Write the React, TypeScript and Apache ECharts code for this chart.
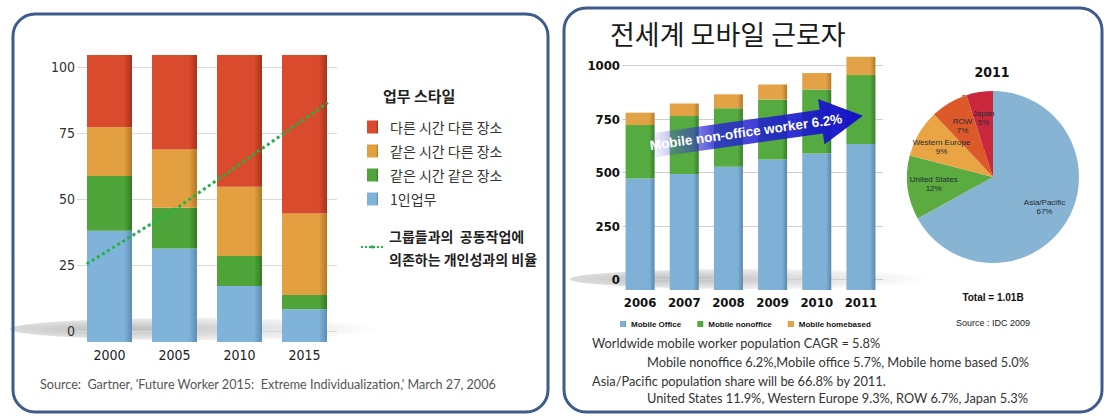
import React, { useEffect, useRef } from 'react';
import * as echarts from 'echarts';

// ---------- Left chart data (share of work style, %) ----------
const leftYears = ['2000', '2005', '2010', '2015'];
const soloWork = [38.8, 32.6, 19.5, 11.4]; // 1인업무
const sameTimeSamePlace = [19.0, 14.2, 10.5, 5.0]; // 같은 시간 같은 장소
const sameTimeDiffPlace = [17.0, 20.3, 24.1, 28.4]; // 같은 시간 다른 장소
const diffTimeDiffPlace = [25.2, 32.9, 45.9, 55.2]; // 다른 시간 다른 장소
const groupRatioYears = [1998.25, 2005.4, 2016.8];
const groupRatioValues = [25.4, 47.3, 86.5];

// ---------- Right chart data (mobile workers, millions) ----------
const rightYears = ['2006', '2007', '2008', '2009', '2010', '2011'];
const mobileOffice = [487, 506, 538, 570, 596, 637];
const mobileNonoffice = [233, 253, 255, 262, 279, 301];
const mobileHomebased = [54, 55, 61, 65, 72, 80];

// ---------- Pie data (2011 share, %) ----------
const regions = ['Asia/Pacific', 'United States', 'Western Europe', 'ROW', 'Japan'];
const regionShares = [67, 12, 9, 7, 5];

const LINE_NAME = '그룹들과의  공동작업에\n의존하는 개인성과의 비율';
const KR = "'Noto Sans CJK KR', 'Noto Sans', sans-serif";
const NARROW = "'Liberation Sans Narrow', 'DejaVu Sans Condensed', 'Open Sans', sans-serif";
const LATO = "Lato, 'Open Sans', sans-serif";
const PIE_C = [993, 177];

function grad(c: string, dark: string) {
  return new echarts.graphic.LinearGradient(0, 0, 1, 0, [
    { offset: 0, color: c },
    { offset: 0.82, color: c },
    { offset: 1, color: dark },
  ]);
}

function txt(x: number, y: number, text: string, font: string, fill: string, align = 'left', z = 30) {
  return {
    type: 'text',
    x,
    y,
    z,
    style: {
      text,
      font,
      fill,
      align,
      textAlign: align,
      verticalAlign: 'middle',
      textVerticalAlign: 'middle',
    },
  };
}

function shadow(cx: number, cy: number, rx: number, ry: number) {
  return {
    type: 'ellipse',
    z: 0,
    shape: { cx, cy, rx, ry },
    style: {
      fill: new echarts.graphic.RadialGradient(0.3, 0.5, 0.7, [
        { offset: 0, color: 'rgba(0,0,0,0.26)' },
        { offset: 0.6, color: 'rgba(0,0,0,0.1)' },
        { offset: 1, color: 'rgba(0,0,0,0)' },
      ]),
    },
  };
}

export default function App() {
  const ref = useRef<HTMLDivElement>(null);
  useEffect(() => {
    if (!ref.current) return;
    const chart = echarts.init(ref.current, undefined, { renderer: 'svg' });
    const option: any = {
      animation: false,
      backgroundColor: '#ffffff',
      grid: [
        { left: 77, top: 67, width: 260, height: 264 },
        { left: 77, top: 55, width: 260, height: 287 },
        { left: 622, top: 65.5, width: 261, height: 214 },
        { left: 618, top: 38, width: 265, height: 252 },
      ],
      xAxis: [
        { gridIndex: 0, type: 'value', min: 1997.5, max: 2017.5, show: false },
        {
          gridIndex: 1,
          type: 'category',
          data: leftYears,
          axisLine: { show: false },
          axisTick: { show: false },
          axisLabel: { margin: 6, fontSize: 14, color: '#222', fontFamily: NARROW },
        },
        { gridIndex: 2, type: 'category', data: rightYears, show: false },
        {
          gridIndex: 3,
          type: 'category',
          data: rightYears,
          axisLine: { show: false },
          axisTick: { show: false },
          axisLabel: { interval: 0, margin: 6, fontSize: 13, fontWeight: 'bold', color: '#111', fontFamily: NARROW },
        },
      ],
      yAxis: [
        {
          gridIndex: 0,
          type: 'value',
          min: 0,
          max: 100,
          interval: 25,
          axisLine: { show: false },
          axisTick: { show: false },
          axisLabel: { margin: 2, fontSize: 14, color: '#333', fontFamily: NARROW },
          splitLine: { lineStyle: { color: '#d9d9d9' } },
        },
        { gridIndex: 1, type: 'value', min: 0, max: 100, show: false },
        {
          gridIndex: 2,
          type: 'value',
          min: 0,
          max: 1000,
          interval: 250,
          axisLine: { show: false },
          axisTick: { show: false },
          axisLabel: {
            margin: 2,
            fontSize: 13,
            fontWeight: 'bold',
            color: '#111',
            fontFamily: NARROW,
            formatter: (v: number) => String(v),
          },
          splitLine: { lineStyle: { color: '#cfcfcf' } },
        },
        { gridIndex: 3, type: 'value', min: 0, max: 1100, show: false },
      ],
      legend: [
        {
          data: ['다른 시간 다른 장소', '같은 시간 다른 장소', '같은 시간 같은 장소', '1인업무'],
          orient: 'vertical',
          left: 367,
          top: 120,
          padding: 0,
          itemWidth: 11,
          itemHeight: 13,
          itemGap: 10,
          icon: 'rect',
          selectedMode: false,
          textStyle: { fontSize: 14, color: '#333', fontFamily: KR, padding: [0, 0, 0, 7] },
        },
        {
          data: [LINE_NAME],
          left: 360,
          top: 224,
          padding: 0,
          itemWidth: 23,
          itemHeight: 4,
          selectedMode: false,
          textStyle: { fontSize: 14, fontWeight: 'bold', lineHeight: 23, color: '#222', fontFamily: KR },
        },
        {
          data: ['Mobile Office', 'Mobile nonoffice', 'Mobile homebased'],
          left: 620,
          top: 320,
          padding: 0,
          itemWidth: 6,
          itemHeight: 6,
          itemGap: 16,
          icon: 'rect',
          selectedMode: false,
          textStyle: { fontSize: 8, fontWeight: 'bold', color: '#111', fontFamily: "'Liberation Sans', sans-serif" },
        },
      ],
      series: [
        { name: '1인업무', type: 'bar', stack: 'L', xAxisIndex: 1, yAxisIndex: 1, barWidth: 45, data: soloWork, itemStyle: { color: grad('#80b3d9', '#5d8db3') } },
        { name: '같은 시간 같은 장소', type: 'bar', stack: 'L', xAxisIndex: 1, yAxisIndex: 1, barWidth: 45, data: sameTimeSamePlace, itemStyle: { color: grad('#4fa53a', '#357a25') } },
        { name: '같은 시간 다른 장소', type: 'bar', stack: 'L', xAxisIndex: 1, yAxisIndex: 1, barWidth: 45, data: sameTimeDiffPlace, itemStyle: { color: grad('#e3a040', '#b07828') } },
        { name: '다른 시간 다른 장소', type: 'bar', stack: 'L', xAxisIndex: 1, yAxisIndex: 1, barWidth: 45, data: diffTimeDiffPlace, itemStyle: { color: grad('#da4a2c', '#a8321c') } },
        {
          name: LINE_NAME,
          type: 'line',
          xAxisIndex: 0,
          yAxisIndex: 0,
          z: 5,
          symbol: 'none',
          data: groupRatioYears.map((y, i) => [y, groupRatioValues[i]]),
          lineStyle: { color: '#22b24c', width: 3, type: 'dotted' },
          itemStyle: { color: '#22b24c' },
        },
        { name: 'Mobile Office', type: 'bar', stack: 'R', xAxisIndex: 3, yAxisIndex: 3, barWidth: 29, data: mobileOffice, itemStyle: { color: grad('#7fb0d5', '#5a88ad') } },
        { name: 'Mobile nonoffice', type: 'bar', stack: 'R', xAxisIndex: 3, yAxisIndex: 3, barWidth: 29, data: mobileNonoffice, itemStyle: { color: grad('#55aa40', '#3a7d2a') } },
        { name: 'Mobile homebased', type: 'bar', stack: 'R', xAxisIndex: 3, yAxisIndex: 3, barWidth: 29, data: mobileHomebased, itemStyle: { color: grad('#e2a245', '#b07a2c') } },
        {
          name: '2011',
          type: 'pie',
          center: PIE_C,
          radius: 86,
          startAngle: 90,
          clockwise: true,
          data: regions.map((n, i) => ({ name: n, value: regionShares[i] })),
          color: ['#86b4d2', '#5cab40', '#e9a443', '#dc5a2a', '#c9283c'],
          label: {
            position: 'inside',
            formatter: '{b}\n{c}%',
            fontSize: 8,
            lineHeight: 9,
            color: '#1e2a33',
            fontFamily: "'Liberation Sans', sans-serif",
          },
          labelLayout: (p: any) => {
            const r = p.labelRect;
            const cx = r.x + r.width / 2;
            const cy = r.y + r.height / 2;
            return { x: PIE_C[0] + (cx - PIE_C[0]) * 1.3, y: PIE_C[1] + (cy - PIE_C[1]) * 1.3 };
          },
        },
      ],
      graphic: [
        shadow(195, 329, 185, 11),
        shadow(750, 279, 180, 10),
        // panel borders
        {
          type: 'rect',
          z: 40,
          shape: { x: 13, y: 14, width: 535, height: 398, r: 22 },
          style: { fill: 'none', stroke: '#3e5b8d', lineWidth: 3 },
        },
        {
          type: 'rect',
          z: 40,
          shape: { x: 564, y: 8, width: 538, height: 404, r: 22 },
          style: { fill: 'none', stroke: '#3e5b8d', lineWidth: 3 },
        },
        // arrow
        {
          type: 'group',
          x: 648,
          y: 146,
          rotation: (8 * Math.PI) / 180,
          z: 20,
          children: [
            {
              type: 'polygon',
              z: 20,
              shape: { points: [[0, -12], [175, -12], [175, -23], [217, 0], [175, 23], [175, 12], [0, 12]] },
              style: {
                fill: new echarts.graphic.LinearGradient(0, 0, 1, 0, [
                  { offset: 0, color: 'rgba(70,70,220,0)' },
                  { offset: 0.3, color: 'rgba(40,40,210,0.8)' },
                  { offset: 1, color: '#1212c6' },
                ]),
              },
            },
            {
              type: 'text',
              z: 21,
              x: 99,
              y: 0,
              style: {
                text: 'Mobile non-office worker 6.2%',
                font: "bold 13.5px 'Liberation Sans', sans-serif",
                fill: '#ffffff',
                align: 'center',
                textAlign: 'center',
                verticalAlign: 'middle',
                textVerticalAlign: 'middle',
              },
            },
          ],
        },
        txt(383, 95, '업무 스타일', `bold 15px ${KR}`, '#222'),
        txt(40, 384, "Source:  Gartner, 'Future Worker 2015:  Extreme Individualization,' March 27, 2006", `12.6px ${LATO}`, '#555'),
        txt(610, 33, '전세계 모바일 근로자', `27px ${KR}`, '#1a1a1a'),
        txt(992, 72, '2011', `bold 14px ${NARROW}`, '#111', 'center'),
        txt(993, 297, 'Total = 1.01B', "bold 10px 'Liberation Sans', sans-serif", '#111', 'center'),
        txt(993, 323, 'Source : IDC 2009', "9px 'Liberation Sans', sans-serif", '#222', 'center'),
        txt(592, 343, 'Worldwide mobile worker population CAGR = 5.8%', `12.8px ${LATO}`, '#333'),
        txt(647, 362, 'Mobile nonoffice 6.2%,Mobile office 5.7%, Mobile home based 5.0%', `12.8px ${LATO}`, '#333'),
        txt(592, 381, 'Asia/Pacific population share will be 66.8% by 2011.', `12.8px ${LATO}`, '#333'),
        txt(647, 398, 'United States 11.9%, Western Europe 9.3%, ROW 6.7%, Japan 5.3%', `12.8px ${LATO}`, '#333'),
      ],
    };
    chart.setOption(option);
    return () => chart.dispose();
  }, []);
  return (
    <div
      ref={ref}
      style={{ position: 'fixed', left: 0, top: 0, width: 1113, height: 420, background: '#fff' }}
    />
  );
}
